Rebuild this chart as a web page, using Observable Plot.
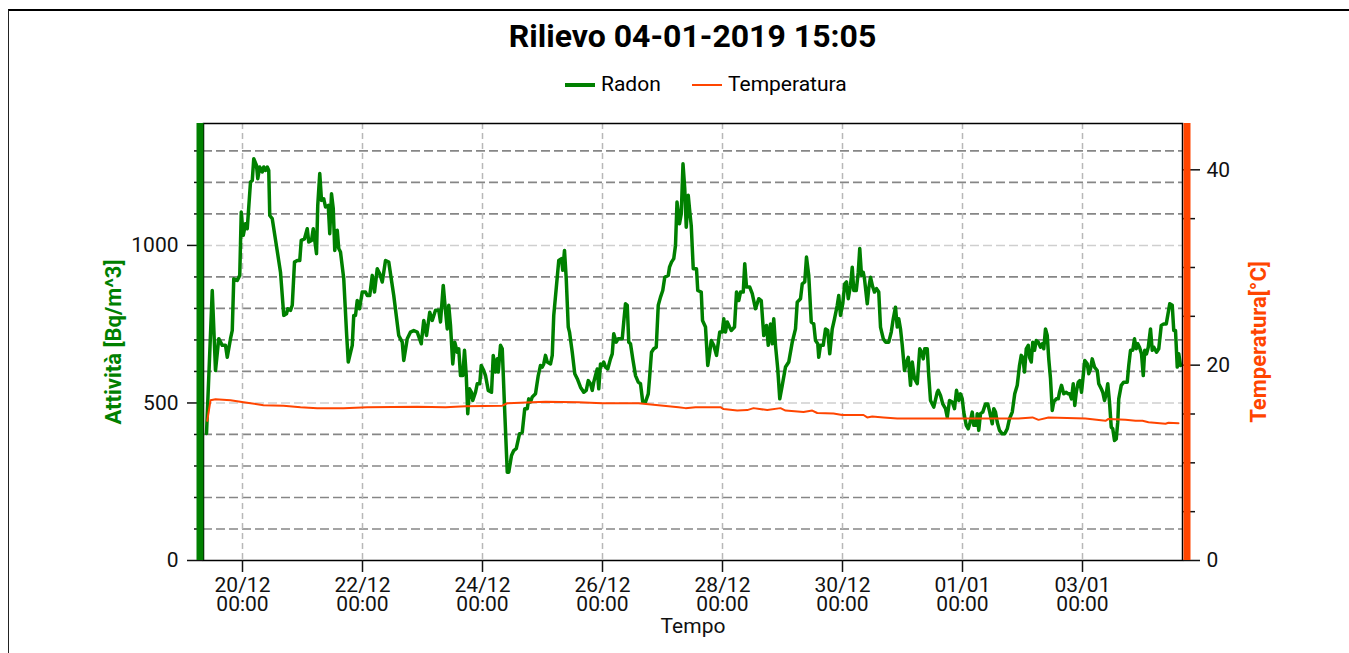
<!DOCTYPE html>
<html><head><meta charset="utf-8">
<script src="https://cdn.jsdelivr.net/npm/d3@7"></script>
<script src="https://cdn.jsdelivr.net/npm/@observablehq/plot@0.6"></script>
<style>
html,body{margin:0;padding:0;background:#fff;overflow:hidden;}
body{width:1349px;height:653px;position:relative;font-family:Roboto,sans-serif;}
#border{position:absolute;left:8px;top:9px;width:1400px;height:700px;border-top:2px solid #000;border-left:1.5px solid #222;}
#title{position:absolute;left:0;width:1385px;top:20px;text-align:center;font:bold 32px/32px Roboto,sans-serif;color:#000;white-space:nowrap;}
.lg{position:absolute;font:21px/21px Roboto,sans-serif;top:74px;color:#000;white-space:nowrap;}
.sw{position:absolute;height:0;width:30px;}
#chart{position:absolute;left:0;top:100px;}
</style></head><body>
<div id="border"></div>
<div id="title"></div>
<div id="legend"></div>
<div id="chart"></div>
<script>
// ---- texts ----
const titleText = "Rilievo 04-01-2019 15:05";
const seriesNames = ["Radon", "Temperatura"];
const yTitle = "Attività [Bq/m^3]";
const y2Title = "Temperatura[°C]";
const xTitle = "Tempo";

// ---- axes ----
const T0 = "2018-12-20T00:00Z";          // reference for hour offsets
const xStart = "2018-12-19T08:24Z";
const xEnd = "2019-01-04T16:00Z";
const xTicks = ["2018-12-20","2018-12-22","2018-12-24","2018-12-26","2018-12-28","2018-12-30","2019-01-01","2019-01-03"];
const radonMax = 1387;
const radonMajorTicks = [0, 500, 1000];
const radonMinorTicks = [100,200,300,400,600,700,800,900,1100,1200,1300];
const tempMajorTicks = [0, 20, 40];
const tempMinorTicks = [5,10,15,25,30,35];
const K = 31; // Bq/m^3 per °C on the shared vertical scale

// ---- series: [hours since T0, value] ----
const radonReadings = [[-14.4,403],[-12.1,857],[-10.8,603],[-9.5,704],[-8.1,683],[-6.8,683],[-6.1,645],[-4.8,704],[-4.1,730],[-3.5,894],[-2.1,889],[-1.1,905],[-0.5,1106],[0.3,1032],[1.2,1069],[1.9,1053],[3.2,1201],[3.9,1206],[4.5,1275],[5.6,1254],[6.1,1212],[6.9,1249],[7.9,1233],[8.5,1249],[9.2,1238],[9.9,1249],[10.5,1238],[10.9,1095],[11.9,1085],[15.2,915],[16.5,778],[17.6,783],[18.1,799],[19.2,794],[19.9,810],[20.8,947],[21.9,952],[22.9,952],[23.5,1016],[24.8,1021],[25.9,1053],[26.5,1011],[27.6,1016],[28.3,1053],[29.6,974],[30.1,1127],[30.9,1228],[31.6,1143],[32.5,1148],[33.2,1122],[34.3,1127],[34.9,1037],[35.6,1164],[36.3,1117],[36.9,984],[37.9,1048],[38.5,990],[39.2,979],[40.5,894],[41.6,725],[42.3,630],[43.9,683],[44.5,778],[45.2,778],[45.9,825],[46.8,799],[47.9,852],[49.2,852],[49.9,841],[50.9,841],[51.9,905],[52.8,852],[53.9,926],[54.9,910],[55.9,884],[56.5,915],[57.2,952],[58.5,947],[60.5,841],[62.5,714],[63.9,693],[64.5,635],[65.9,704],[67.2,725],[68.5,730],[69.9,725],[71.5,688],[72.5,762],[73.6,714],[74.9,788],[75.9,762],[77.2,794],[78.5,794],[79.2,757],[80.3,873],[81.0,810],[81.9,735],[82.5,810],[83.2,746],[84.1,624],[84.9,693],[85.9,661],[86.5,672],[87.2,587],[88.1,587],[88.8,667],[89.5,587],[90.1,466],[90.8,545],[91.6,534],[92.1,508],[93.2,534],[93.9,561],[94.9,561],[95.5,619],[96.5,603],[97.2,587],[98.3,540],[99.6,534],[100.3,651],[101.2,598],[101.9,640],[102.3,598],[103.2,683],[103.9,672],[104.9,471],[105.9,280],[106.5,280],[107.6,333],[108.5,349],[109.5,355],[110.8,402],[111.9,407],[112.9,482],[113.9,482],[114.5,513],[115.2,503],[115.9,519],[117.2,529],[118.3,587],[119.2,619],[119.9,614],[120.5,624],[121.2,651],[121.9,630],[123.2,624],[123.9,651],[124.5,778],[125.6,873],[126.5,952],[127.6,958],[128.1,921],[128.8,984],[129.5,894],[130.3,741],[130.8,725],[131.9,661],[132.9,593],[133.9,577],[135.2,550],[136.5,534],[137.5,540],[138.3,571],[139.2,561],[139.9,540],[140.5,566],[141.2,587],[141.9,608],[142.5,545],[143.2,624],[143.9,619],[144.5,630],[145.2,614],[146.1,608],[147.2,640],[147.9,656],[148.5,720],[149.5,693],[150.3,704],[151.9,704],[152.5,757],[153.2,815],[153.9,810],[154.5,693],[155.2,688],[156.1,640],[157.2,587],[158.3,566],[159.2,561],[160.1,503],[161.2,503],[162.3,529],[162.8,577],[163.6,661],[164.5,672],[165.5,677],[166.3,810],[167.2,836],[168.1,857],[168.9,899],[170.3,905],[170.8,931],[171.6,947],[172.5,958],[173.2,1000],[173.8,1138],[174.8,1069],[175.5,1100],[176.2,1259],[176.9,1180],[177.5,1058],[178.3,1159],[179.0,1100],[179.5,1063],[180.3,926],[181.6,926],[182.1,857],[183.5,852],[184.0,762],[185.2,741],[186.1,619],[186.9,661],[187.5,698],[188.5,683],[189.6,651],[190.9,725],[191.9,725],[192.5,767],[193.2,725],[193.9,757],[194.8,741],[195.5,730],[196.8,741],[197.6,852],[198.5,825],[199.2,852],[200.3,852],[200.9,942],[201.6,868],[202.9,868],[203.9,847],[205.2,799],[206.5,831],[207.5,825],[208.5,714],[209.6,746],[210.3,683],[211.2,751],[211.9,688],[212.5,767],[213.2,683],[214.1,608],[214.9,513],[215.9,556],[217.2,614],[218.5,630],[219.9,693],[221.2,735],[221.9,820],[223.2,831],[223.9,878],[224.9,884],[225.6,963],[226.5,905],[227.5,757],[228.5,751],[229.2,698],[230.1,688],[230.5,645],[231.2,683],[232.3,683],[233.2,735],[234.1,730],[234.9,656],[235.9,735],[236.8,767],[237.9,810],[238.5,841],[239.2,778],[240.1,815],[240.9,878],[241.6,884],[242.3,831],[243.2,873],[243.9,931],[244.5,857],[245.5,857],[246.3,915],[246.9,990],[247.6,905],[248.3,915],[248.8,894],[249.9,815],[250.5,863],[251.2,899],[252.1,868],[252.8,852],[253.6,863],[254.5,852],[255.2,741],[256.3,704],[257.2,693],[258.5,693],[259.5,725],[260.3,767],[261.2,804],[261.9,741],[262.5,767],[263.2,735],[263.9,683],[264.8,603],[265.6,630],[266.3,645],[267.2,556],[267.9,630],[268.8,577],[269.9,561],[270.9,672],[271.6,661],[272.3,640],[272.9,672],[273.9,672],[274.5,587],[275.2,508],[276.5,487],[277.9,534],[278.3,540],[279.2,524],[280.1,497],[281.2,482],[281.9,455],[282.8,508],[283.9,503],[284.8,482],[285.6,540],[286.5,508],[287.2,529],[287.9,513],[288.5,471],[289.5,429],[290.3,418],[290.9,434],[291.9,471],[292.5,429],[293.5,429],[293.9,466],[294.5,413],[295.2,466],[296.1,471],[297.2,497],[298.1,497],[298.9,471],[299.9,434],[300.5,482],[301.2,471],[301.9,439],[302.8,413],[303.9,402],[304.9,402],[305.9,418],[306.8,450],[307.9,471],[308.9,529],[309.9,556],[310.8,619],[311.5,651],[312.1,645],[312.8,598],[313.5,672],[314.3,683],[314.8,645],[315.5,630],[316.1,693],[316.8,667],[317.5,698],[318.3,693],[319.2,677],[319.9,688],[320.5,672],[321.2,735],[321.9,714],[322.5,640],[323.2,577],[323.9,476],[324.5,503],[325.5,513],[326.3,513],[326.8,534],[327.6,556],[328.5,529],[329.5,534],[330.3,529],[330.9,529],[331.6,513],[332.3,561],[332.9,492],[333.5,534],[334.3,566],[334.9,571],[335.6,534],[336.3,587],[336.9,635],[337.9,624],[338.5,593],[339.2,608],[339.9,640],[340.8,614],[341.9,603],[342.5,561],[343.5,545],[344.1,534],[344.8,508],[345.5,529],[346.1,561],[346.8,503],[347.5,423],[348.1,418],[348.8,381],[349.5,386],[350.1,439],[350.5,513],[351.5,556],[352.5,566],[353.9,566],[354.5,619],[355.2,667],[356.1,667],[356.8,704],[357.5,672],[358.1,688],[358.8,677],[359.6,656],[360.3,587],[360.9,667],[361.6,656],[362.3,677],[363.2,735],[363.9,667],[364.5,677],[365.6,661],[366.5,672],[367.5,746],[368.5,751],[369.5,751],[370.1,778],[370.9,815],[371.9,810],[372.5,730],[373.2,730],[373.9,614],[374.5,656],[375.2,619]];

const tempReadings = [[-14.1,14.3],[-12.8,16.4],[-10.8,16.5],[-4.8,16.4],[0.4,16.2],[8.4,15.9],[16.4,15.85],[23.2,15.7],[29.9,15.6],[40.4,15.6],[49.9,15.7],[69.9,15.75],[81.2,15.7],[89.2,15.8],[103.9,15.85],[105.9,16.1],[115.9,16.2],[121.2,16.25],[134.4,16.2],[143.9,16.1],[158.4,16.1],[166.4,15.9],[174.4,15.7],[177.2,15.6],[181.2,15.7],[191.2,15.7],[192.4,15.5],[197.9,15.35],[201.9,15.4],[204.4,15.6],[209.9,15.4],[215.2,15.6],[217.2,15.35],[224.4,15.2],[227.9,15.35],[229.9,15.1],[236.4,15.05],[239.9,14.9],[248.4,14.9],[249.9,14.65],[251.9,14.75],[256.4,14.65],[261.9,14.55],[279.2,14.55],[290.4,14.55],[310.4,14.55],[316,14.65],[318.4,14.4],[322.4,14.65],[337.2,14.55],[345.2,14.3],[346.4,14.5],[353.2,14.4],[357.2,14.3],[360,14.3],[362.4,14.15],[369.2,14.0],[370.4,14.1],[374.4,14.05]];

const colors = {radon: "#008000", temp: "#ff4500"};

// ---- build ----
document.getElementById("title").textContent = titleText;
const legend = document.getElementById("legend");
legend.innerHTML =
  `<div class="sw" style="left:565px;top:83px;border-top:4px solid ${colors.radon}"></div>` +
  `<div class="lg" style="left:601px">${seriesNames[0]}</div>` +
  `<div class="sw" style="left:692px;top:84px;border-top:2px solid ${colors.temp}"></div>` +
  `<div class="lg" style="left:728px">${seriesNames[1]}</div>`;

const base = Date.parse(T0);
const radonData = radonReadings.map(([h, v]) => ({t: new Date(base + h * 3600e3), v}));
const tempData = tempReadings.map(([h, c]) => ({t: new Date(base + h * 3600e3), v: c * K}));
const xTickDates = xTicks.map(d => new Date(d));
const x0 = new Date(xStart), x1 = new Date(xEnd);

const chart = Plot.plot({
  width: 1349, height: 553,
  marginTop: 23, marginBottom: 93, marginLeft: 203, marginRight: 167,
  style: {fontFamily: "Roboto, sans-serif", fontSize: "21px", color: "#111", background: "transparent", overflow: "visible"},
  x: {type: "utc", domain: [x0, x1]},
  y: {domain: [0, radonMax]},
  marks: [
    Plot.ruleY(radonMinorTicks, {stroke: "#868686", strokeWidth: 1.7, strokeDasharray: "9,4"}),
    Plot.ruleY(radonMajorTicks.slice(1), {stroke: "#cfcfcf", strokeWidth: 1.5, strokeDasharray: "9,4"}),
    Plot.ruleX(xTickDates, {stroke: "#b8b8b8", strokeWidth: 1.5, strokeDasharray: "6,4"}),
    Plot.line(radonData, {x: "t", y: "v", stroke: colors.radon, strokeWidth: 3.5}),
    Plot.line(tempData, {x: "t", y: "v", stroke: colors.temp, strokeWidth: 2}),
    Plot.frame({stroke: "#000", strokeWidth: 1.5}),
    Plot.axisX({ticks: xTickDates, tickFormat: d3.utcFormat("%d/%m\n%H:%M"), tickSize: 12, tickPadding: 6, lineHeight: 0.9, fontSize: 21, label: null, strokeWidth: 1.5}),
    Plot.axisY({anchor: "left", ticks: radonMajorTicks, tickFormat: d => String(d), tickSize: 16, tickPadding: 9, fontSize: 21, label: null, strokeWidth: 1.5}),
    Plot.axisY({anchor: "left", ticks: radonMinorTicks, tickSize: 9, tickFormat: () => "", label: null, strokeWidth: 1.5}),
    Plot.axisY({anchor: "right", ticks: tempMajorTicks.map(t => t * K), tickFormat: d => String(Math.round(d / K)), tickSize: 17, tickPadding: 7, fontSize: 21, label: null, strokeWidth: 1.5}),
    Plot.axisY({anchor: "right", ticks: tempMinorTicks.map(t => t * K), tickSize: 12, tickFormat: () => "", label: null, strokeWidth: 1.5}),
    Plot.ruleX([x0], {stroke: colors.radon, strokeWidth: 7, dx: -3.5}),
    Plot.ruleX([x1], {stroke: colors.temp, strokeWidth: 7, dx: 4.5}),
    Plot.text([yTitle], {text: d => d, frameAnchor: "left", dx: -90, rotate: -90, textAnchor: "middle", fill: colors.radon, fontWeight: "bold", fontSize: 22}),
    Plot.text([y2Title], {text: d => d, frameAnchor: "right", dx: 76, rotate: -90, textAnchor: "middle", fill: colors.temp, fontWeight: "bold", fontSize: 22}),
    Plot.text([xTitle], {text: d => d, frameAnchor: "bottom", dy: 72, fontSize: 21, fill: "#111"})
  ]
});
document.getElementById("chart").appendChild(chart);
</script>
</body></html>
